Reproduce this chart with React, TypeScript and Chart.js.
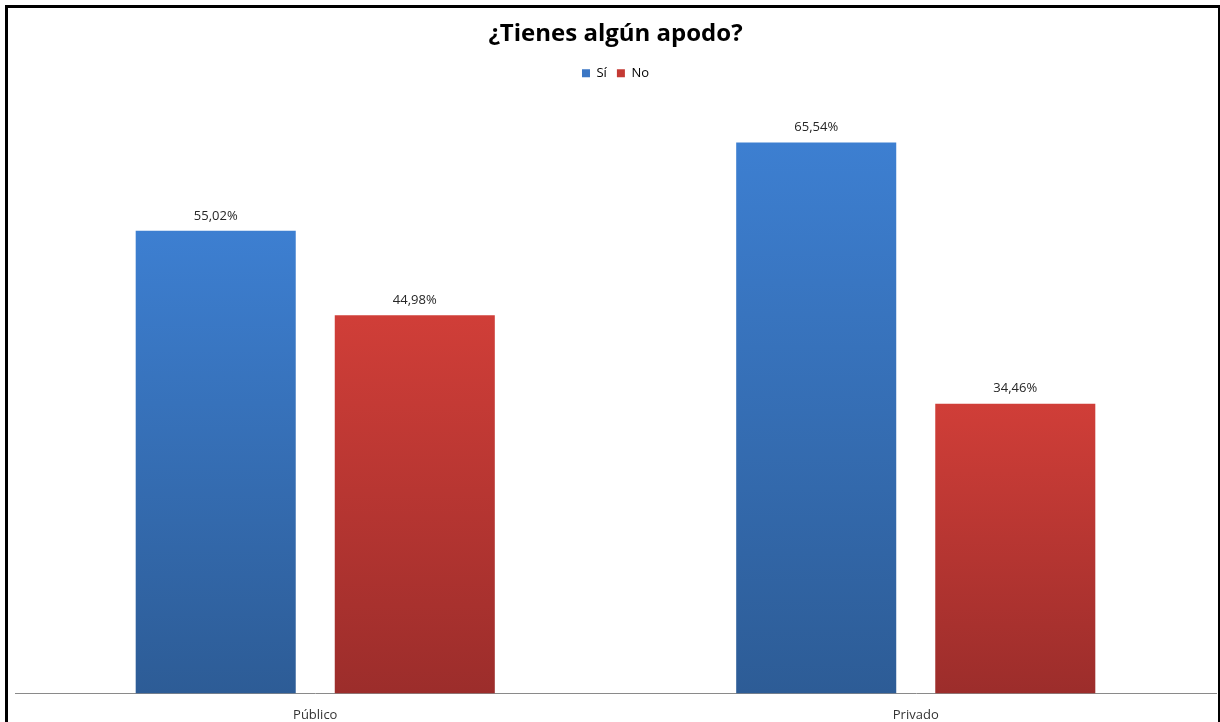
import React, { useEffect, useRef } from 'react';
import { Chart, registerables } from 'chart.js';

Chart.register(...registerables);

const categories = ['Público', 'Privado'];
const seriesNames = ['Sí', 'No'];
const siValues = [55.02, 65.54];
const noValues = [44.98, 34.46];
const titleText = '¿Tienes algún apodo?';

const FONT = "'Open Sans', 'Noto Sans', sans-serif";
const BLUE_TOP = '#3d7fd1';
const BLUE_BOTTOM = '#2d5c96';
const RED_TOP = '#d03e38';
const RED_BOTTOM = '#9c2d2b';
const BLUE_SOLID = '#3a76c4';
const RED_SOLID = '#c43a34';

function gradientFor(top: string, bottom: string) {
  return (c: any) => {
    const chart = c.chart;
    const area = chart.chartArea;
    if (!area || c.type !== 'data' || !chart.scales.y) return top;
    const ys = chart.scales.y;
    const yTop = ys.getPixelForValue(c.raw);
    const yBottom = ys.getPixelForValue(0);
    const g = chart.ctx.createLinearGradient(0, yTop, 0, yBottom);
    g.addColorStop(0, top);
    g.addColorStop(1, bottom);
    return g;
  };
}

const valueLabels = {
  id: 'valueLabels',
  afterDatasetsDraw(chart: any) {
    const ctx = chart.ctx;
    ctx.save();
    ctx.font = `13px ${FONT}`;
    ctx.fillStyle = '#262626';
    ctx.textAlign = 'center';
    ctx.textBaseline = 'middle';
    chart.data.datasets.forEach((ds: any, i: number) => {
      const meta = chart.getDatasetMeta(i);
      meta.data.forEach((el: any, j: number) => {
        const v = ds.data[j] as number;
        const txt = v.toFixed(2).replace('.', ',') + '%';
        ctx.fillText(txt, el.x, el.y - 15);
      });
    });
    ctx.restore();
  },
};

const frame = {
  id: 'frame',
  afterDraw(chart: any) {
    const ctx = chart.ctx;
    ctx.save();
    ctx.fillStyle = '#000';
    ctx.fillRect(5, 5, 3, 735);
    ctx.fillRect(5, 5, 1215, 3);
    ctx.fillRect(1218, 5, 2, 735);
    ctx.restore();
  },
};

export default function App() {
  const ref = useRef<HTMLCanvasElement | null>(null);

  useEffect(() => {
    document.body.style.margin = '0';
    const canvas = ref.current;
    if (!canvas) return;
    const chart = new Chart(canvas, {
      type: 'bar',
      data: {
        labels: categories,
        datasets: [
          {
            label: seriesNames[0],
            data: siValues,
            backgroundColor: gradientFor(BLUE_TOP, BLUE_BOTTOM),
            borderWidth: 0,
          },
          {
            label: seriesNames[1],
            data: noValues,
            backgroundColor: gradientFor(RED_TOP, RED_BOTTOM),
            borderWidth: 0,
          },
        ],
      },
      options: {
        responsive: false,
        animation: false,
        devicePixelRatio: 1,
        datasets: {
          bar: {
            categoryPercentage: 0.663,
            barPercentage: 0.804,
          },
        },
        layout: { padding: { left: 15, right: 4, top: 0, bottom: 0 } },
        plugins: {
          title: {
            display: true,
            text: titleText,
            color: '#000',
            font: { family: FONT, size: 24, weight: 'bold' },
            padding: { top: 20, bottom: 8 },
          },
          legend: {
            display: true,
            position: 'top',
            labels: {
              boxWidth: 8,
              boxHeight: 8,
              padding: 10,
              color: '#262626',
              font: { family: FONT, size: 13 },
              generateLabels: () => [
                { text: seriesNames[0], fillStyle: BLUE_SOLID, strokeStyle: BLUE_SOLID, lineWidth: 0, datasetIndex: 0, hidden: false },
                { text: seriesNames[1], fillStyle: RED_SOLID, strokeStyle: RED_SOLID, lineWidth: 0, datasetIndex: 1, hidden: false },
              ],
            },
          },
          tooltip: { enabled: false },
        },
        scales: {
          x: {
            grid: { display: false, drawTicks: false },
            border: { display: true, color: '#8a8a8a', width: 1 },
            ticks: {
              color: '#333',
              font: { family: FONT, size: 13 },
              padding: 14,
            },
          },
          y: {
            display: false,
            min: 0,
            max: 71.8,
          },
        },
      },
      plugins: [valueLabels, frame],
    });
    return () => chart.destroy();
  }, []);

  return (
    <div style={{ position: 'absolute', left: 0, top: 0, width: 1220, height: 722, overflow: 'hidden', background: '#fff' }}>
      <canvas ref={ref} width={1220} height={737} style={{ display: 'block' }} />
    </div>
  );
}
